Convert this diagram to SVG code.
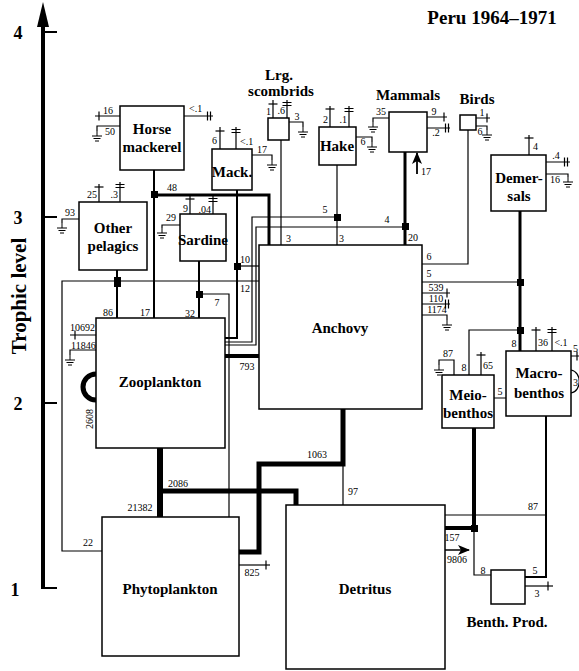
<svg xmlns="http://www.w3.org/2000/svg" xmlns:xlink="http://www.w3.org/1999/xlink" width="579" height="671" viewBox="0 0 579 671">
<style>
.ln{stroke:#000;stroke-width:1.2;fill:none}
.m{stroke:#000;stroke-width:2;fill:none}
.th{stroke:#000;stroke-width:3;fill:none}
.tk{stroke:#000;stroke-width:5;fill:none}
.box{fill:#fff;stroke:#000;stroke-width:1.5}
.lbl{font-family:"Liberation Serif",serif;font-weight:bold;font-size:15px;text-anchor:middle}
.num{font-family:"Liberation Serif",serif;font-size:10px}
.c{text-anchor:middle}
.e{text-anchor:end}
.j{fill:#000}
</style>
<defs>
<path id="gnd" d="M0,0v5M-5,5h10M-3.5,7.5h7M-2,10h4" stroke="#000" stroke-width="1" fill="none"/>
<path id="tv" d="M0,-4.5V4.5" stroke="#000" stroke-width="1.2"/>
<path id="tv2" d="M-1.5,-4.5V4.5M1.5,-4.5V4.5" stroke="#000" stroke-width="1.2"/>
<path id="th" d="M-4.5,0H4.5" stroke="#000" stroke-width="1.2"/>
<path id="th2" d="M-4.5,-1.5H4.5M-4.5,1.5H4.5" stroke="#000" stroke-width="1.2"/>
<marker id="arr" markerWidth="12" markerHeight="10" refX="11" refY="5" orient="auto" markerUnits="userSpaceOnUse"><path d="M0,0L12,5L0,10L3,5Z" fill="#000"/></marker>
</defs>
<rect width="579" height="671" fill="#fff"/>

<g id="axis">
<path d="M43,589V24" stroke="#000" stroke-width="4"/>
<path d="M43,2L37,27H49Z" fill="#000"/>
<path d="M43,32H57M43,217H57M43,403H57M43,588H57" stroke="#000" stroke-width="2"/>
<text x="18" y="39" class="lbl" style="font-size:18px">4</text>
<text x="18" y="224" class="lbl" style="font-size:18px">3</text>
<text x="18" y="410" class="lbl" style="font-size:18px">2</text>
<text x="15" y="596" class="lbl" style="font-size:18px">1</text>
<text transform="translate(26,296) rotate(-90)" class="lbl" style="font-size:21px">Trophic level</text>
</g>
<text x="492" y="24" class="lbl" style="font-size:19px">Peru 1964–1971</text>

<g id="connectors">
<!-- Horse mackerel -->
<path class="ln" d="M95,116H120M97,131V126H120M184,116H213"/>
<use xlink:href="#tv" x="99" y="116"/>
<use xlink:href="#gnd" x="97" y="131"/>
<use xlink:href="#tv2" x="209" y="116"/>
<path class="m" d="M154,170V318"/>
<path class="th" d="M154,195H269V245"/>
<!-- Other pelagics -->
<path class="ln" d="M99,202V184M120,202V182M79,219H62V223"/>
<use xlink:href="#th" x="99" y="187"/>
<use xlink:href="#th2" x="120" y="186"/>
<use xlink:href="#gnd" x="62" y="223"/>
<path class="m" d="M117,270V318"/>
<!-- phyto 22 line -->
<path class="ln" d="M102,551H62V281H259"/>
<!-- Sardine -->
<path class="ln" d="M180,225H162V228M190,214V196M213,214V196"/>
<use xlink:href="#gnd" x="162" y="228"/>
<use xlink:href="#th" x="190" y="199"/>
<use xlink:href="#th2" x="213" y="200"/>
<path class="m" d="M199,261V318"/>
<path class="ln" d="M199,294H229V517"/>
<!-- Mack -->
<path class="ln" d="M220,149V127M236,149V127M252,155H272V160"/>
<use xlink:href="#th" x="220" y="131"/>
<use xlink:href="#th2" x="236" y="131"/>
<use xlink:href="#gnd" x="272" y="160"/>
<path class="m" d="M237,190V338H225"/>
<path class="ln" d="M237,266H259"/>
<!-- Lrg scombrids -->
<path class="ln" d="M273,118V100M287,118V100M289,122H303V127M281,140V245"/>
<use xlink:href="#th" x="273" y="104"/>
<use xlink:href="#th2" x="287" y="104"/>
<use xlink:href="#gnd" x="303" y="127"/>
<!-- Hake -->
<path class="ln" d="M330,127V106M349,127V106M356,137H372V142M337,165V245M337,217H252V342H225"/>
<use xlink:href="#th" x="330" y="109"/>
<use xlink:href="#th2" x="349" y="110"/>
<use xlink:href="#gnd" x="372" y="142"/>
<!-- Mammals -->
<path class="ln" d="M389,118H373V122M427,117H447M427,128H450"/>
<use xlink:href="#gnd" x="373" y="122"/>
<use xlink:href="#tv" x="444" y="117"/>
<use xlink:href="#tv2" x="447" y="128"/>
<path class="th" d="M405,152V245"/>
<path class="ln" d="M405,227H256V345H225"/>
<path stroke="#000" stroke-width="1.8" d="M417,174V153" marker-end="url(#arr)"/>
<!-- Birds -->
<path class="ln" d="M476,118H490M476,126H487V130M468,130V264H422"/>
<use xlink:href="#tv" x="487" y="118"/>
<use xlink:href="#gnd" x="487" y="130"/>
<!-- Demersals -->
<path class="ln" d="M529,155V135M546,162H570M546,174H568V177"/>
<use xlink:href="#th" x="529" y="138"/>
<use xlink:href="#tv2" x="566" y="162"/>
<use xlink:href="#gnd" x="568" y="177"/>
<path class="th" d="M520,211V351"/>
<path class="ln" d="M422,282H520M520,330H469V375"/>
<!-- Anchovy exports -->
<path class="ln" d="M422,293H450M422,304H450M422,315H447V320"/>
<use xlink:href="#tv" x="447" y="293"/>
<use xlink:href="#tv2" x="447" y="304"/>
<use xlink:href="#gnd" x="447" y="320"/>
<!-- Zooplankton -->
<path class="ln" d="M70,335H96M70,355V350H96"/>
<use xlink:href="#tv" x="75" y="335"/>
<use xlink:href="#gnd" x="70" y="355"/>
<path stroke="#000" stroke-width="5" fill="none" d="M96,374A13,13 0 0 0 96,400"/>
<path class="tk" style="stroke-width:6px" d="M160,448V517"/>
<path class="tk" d="M160,491H296V505"/>
<path class="tk" style="stroke-width:4px" d="M225,356H259"/>
<path class="tk" d="M343,409V464H259V552H239"/>
<path class="ln" d="M343,464V505"/>
<path class="ln" d="M239,565H270"/>
<use xlink:href="#tv" x="266" y="565"/>
<!-- Detritus / benthos -->
<path class="ln" d="M445,515H546"/>
<path class="m" d="M546,416V577H525"/>
<path class="tk" style="stroke-width:4px" d="M445,528H474M474,428V528"/>
<path class="ln" d="M474,528V575H491"/>
<path stroke="#000" stroke-width="1.5" d="M445,550H469" marker-end="url(#arr)"/>
<path class="ln" d="M525,586H553"/>
<use xlink:href="#tv" x="548" y="586"/>
<!-- Meio -->
<path class="ln" d="M454,375V360H439V365M481,375V352M494,398H506"/>
<use xlink:href="#gnd" x="439" y="365"/>
<use xlink:href="#th" x="481" y="355"/>
<!-- Macro -->
<path class="ln" d="M536,351V327M552,351V327M571,356H579"/>
<use xlink:href="#th" x="536" y="330"/>
<use xlink:href="#th2" x="552" y="331"/>
<use xlink:href="#tv" x="577" y="356"/>
<path class="ln" d="M571,370C582,372 582,391 571,393"/>
<!-- junctions -->
<rect class="j" x="151" y="191" width="7" height="7"/>
<rect class="j" x="114" y="277" width="7" height="10"/>
<rect class="j" x="196" y="291" width="7" height="7"/>
<rect class="j" x="234" y="263" width="7" height="7"/>
<rect class="j" x="334" y="214" width="7" height="7"/>
<rect class="j" x="402" y="223" width="7" height="7"/>
<rect class="j" x="517" y="279" width="7" height="7"/>
<rect class="j" x="517" y="327" width="7" height="7"/>
<rect class="j" x="471" y="525" width="7" height="7"/>
</g>

<g id="flowlabels">
<text class="num" x="103" y="114">16</text>
<text class="num" x="105" y="135">50</text>
<text class="num" x="189" y="112">&lt;.1</text>
<text class="num c" x="172" y="191">48</text>
<text class="num e" x="97" y="198">25</text>
<text class="num e" x="118" y="198">.3</text>
<text class="num c" x="70" y="216">93</text>
<text class="num c" x="88" y="546">22</text>
<text class="num c" x="245" y="292">12</text>
<text class="num c" x="171" y="221">29</text>
<text class="num e" x="188" y="212">9</text>
<text class="num e" x="211" y="213">.04</text>
<text class="num c" x="217" y="306">7</text>
<text class="num c" x="190" y="317">32</text>
<text class="num c" x="108" y="316">86</text>
<text class="num c" x="145" y="316">17</text>
<text class="num e" x="217" y="144">6</text>
<text class="num" x="240" y="145">&lt;.1</text>
<text class="num c" x="262" y="153">17</text>
<text class="num c" x="245" y="263">10</text>
<text class="num e" x="271" y="115">1</text>
<text class="num e" x="285" y="114">.6</text>
<text class="num c" x="297" y="120">3</text>
<text class="num" x="286" y="242">3</text>
<text class="num e" x="328" y="123">2</text>
<text class="num e" x="347" y="123">.1</text>
<text class="num c" x="363" y="145">6</text>
<text class="num c" x="325" y="213">5</text>
<text class="num" x="339" y="242">3</text>
<text class="num c" x="381" y="115">35</text>
<text class="num c" x="434" y="115">9</text>
<text class="num c" x="436" y="136">.2</text>
<text class="num c" x="387" y="223">4</text>
<text class="num" x="408" y="241">20</text>
<text class="num" x="421" y="175">17</text>
<text class="num c" x="482" y="116">1</text>
<text class="num c" x="480" y="135">6</text>
<text class="num c" x="429" y="260">6</text>
<text class="num" x="533" y="150">4</text>
<text class="num c" x="556" y="159">.4</text>
<text class="num c" x="555" y="183">16</text>
<text class="num c" x="429" y="277">5</text>
<text class="num c" x="514" y="347">8</text>
<text class="num c" x="464" y="371">8</text>
<text class="num c" x="436" y="291">539</text>
<text class="num c" x="436" y="302">110</text>
<text class="num c" x="437" y="313">1174</text>
<text class="num" x="70" y="331">10692</text>
<text class="num" x="71" y="349">11846</text>
<text class="num c" transform="translate(93,419) rotate(-90)">2608</text>
<text class="num c" x="178" y="487">2086</text>
<text class="num c" x="140" y="511">21382</text>
<text class="num c" x="247" y="370">793</text>
<text class="num c" x="317" y="458">1063</text>
<text class="num" x="348" y="495">97</text>
<text class="num c" x="252" y="576">825</text>
<text class="num c" x="533" y="510">87</text>
<text class="num c" x="535" y="574">5</text>
<text class="num c" x="483" y="574">8</text>
<text class="num c" x="452" y="541">157</text>
<text class="num c" x="457" y="563">9806</text>
<text class="num c" x="537" y="597">3</text>
<text class="num c" x="448" y="357">87</text>
<text class="num" x="483" y="369">65</text>
<text class="num c" x="500" y="395">5</text>
<text class="num c" x="543" y="346">36</text>
<text class="num c" x="561" y="346">&lt;.1</text>
<text class="num" x="573" y="352">5</text>
<text class="num" x="573" y="386">3</text>
</g>

<g id="horse"><rect class="box" x="120" y="106" width="64" height="64"/><text class="lbl" x="152" y="134">Horse</text><text class="lbl" x="152" y="152">mackerel</text></g>
<g id="other"><rect class="box" x="79" y="202" width="68" height="68"/><text class="lbl" x="113" y="233">Other</text><text class="lbl" x="113" y="251">pelagics</text></g>
<g id="sardine"><rect class="box" x="180" y="214" width="46" height="47"/><text class="lbl" x="203" y="245">Sardine</text></g>
<g id="mack"><rect class="box" x="212" y="149" width="40" height="41"/><text class="lbl" x="232" y="177">Mack.</text></g>
<g id="lrg"><rect class="box" x="268" y="118" width="21" height="22"/><text class="lbl" x="279" y="80">Lrg.</text><text class="lbl" x="281" y="96">scombrids</text></g>
<g id="hake"><rect class="box" x="319" y="127" width="37" height="38"/><text class="lbl" x="337" y="151">Hake</text></g>
<g id="mammals"><rect class="box" x="389" y="112" width="38" height="40"/><text class="lbl" x="408" y="100">Mammals</text></g>
<g id="birds"><rect class="box" x="460" y="115" width="16" height="15"/><text class="lbl" x="477" y="104">Birds</text></g>
<g id="demersals"><rect class="box" x="491" y="155" width="55" height="56"/><text class="lbl" x="519" y="183">Demer-</text><text class="lbl" x="519" y="201">sals</text></g>
<g id="anchovy"><rect class="box" x="259" y="245" width="163" height="164"/><text class="lbl" x="340" y="333">Anchovy</text></g>
<g id="zooplankton"><rect class="box" x="96" y="318" width="129" height="130"/><text class="lbl" x="160" y="387">Zooplankton</text></g>
<g id="meiobenthos"><rect class="box" x="442" y="375" width="52" height="53"/><text class="lbl" x="468" y="400">Meio-</text><text class="lbl" x="468" y="418">benthos</text></g>
<g id="macrobenthos"><rect class="box" x="506" y="351" width="65" height="65"/><text class="lbl" x="539" y="378">Macro-</text><text class="lbl" x="539" y="398">benthos</text></g>
<g id="phytoplankton"><rect class="box" x="102" y="517" width="137" height="139"/><text class="lbl" x="170" y="594">Phytoplankton</text></g>
<g id="detritus"><rect class="box" x="286" y="505" width="159" height="164"/><text class="lbl" x="365" y="594">Detritus</text></g>
<g id="benthprod"><rect class="box" x="491" y="570" width="34" height="34"/><text class="lbl" x="507" y="627">Benth. Prod.</text></g>
</svg>
